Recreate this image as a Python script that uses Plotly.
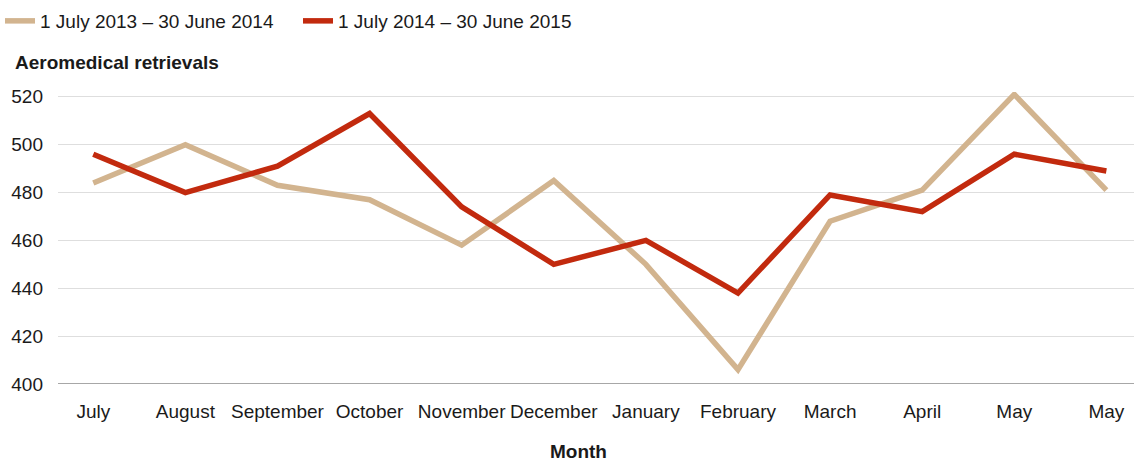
import plotly.graph_objects as go

# Monthly aeromedical retrievals, two financial years
months = ["July", "August", "September", "October", "November", "December",
          "January", "February", "March", "April", "May", "May"]
fy_2013_14 = [484, 500, 483, 477, 458, 485, 450, 406, 468, 481, 521, 481]
fy_2014_15 = [496, 480, 491, 513, 474, 450, 460, 438, 479, 472, 496, 489]
series_names = ["1 July 2013 – 30 June 2014", "1 July 2014 – 30 June 2015"]
y_ticks = [400, 420, 440, 460, 480, 500, 520]

TAN = "#D2B48F"
RED = "#C22A0E"
FONT = "Liberation Sans, Arial, Helvetica, sans-serif"
TEXT = "#1a1a1a"

x_idx = list(range(len(months)))

fig = go.Figure()
fig.add_trace(go.Scatter(x=x_idx, y=fy_2013_14, mode="lines", name=series_names[0],
                         line=dict(color=TAN, width=5.5)))
fig.add_trace(go.Scatter(x=x_idx, y=fy_2014_15, mode="lines", name=series_names[1],
                         line=dict(color=RED, width=5.5)))

fig.update_layout(
    width=1134, height=461,
    margin=dict(l=58, r=0, t=92, b=77),
    paper_bgcolor="white", plot_bgcolor="white",
    font=dict(family=FONT, size=19, color=TEXT),
    showlegend=True,
    legend=dict(orientation="h", x=0, xanchor="left", y=1 - 21 / 461, yanchor="middle",
                xref="container", yref="container",
                font=dict(size=19, color=TEXT), traceorder="normal",
                entrywidth=253, itemwidth=30),
    xaxis=dict(range=[-0.383, 11.3], tickmode="array", tickvals=x_idx, ticktext=months,
               showgrid=False, zeroline=False, showline=False, ticks="",
               ticklabelstandoff=14, tickfont=dict(size=19, color=TEXT)),
    yaxis=dict(range=[400, 522], tickmode="array", tickvals=y_ticks,
               showgrid=True, gridcolor="#dedede", gridwidth=1.2,
               zeroline=False, showline=False, ticks="",
               ticklabelstandoff=14, tickfont=dict(size=19, color=TEXT)),
    shapes=[dict(type="line", xref="paper", yref="y", x0=0, x1=1, y0=400, y1=400,
                 line=dict(color="#8a8a8a", width=1.5))],
)

# free-standing titles, positioned in page pixels converted to paper fractions
W, H = 1134, 461
L, R, T, B = 58, 0, 92, 77
pw, ph = W - L - R, H - T - B
fig.add_annotation(text="<b>Aeromedical retrievals</b>", xref="paper", yref="paper",
                   x=(13 - L) / pw, y=1 - (62 - T) / ph, xanchor="left", yanchor="middle",
                   showarrow=False, font=dict(size=19, color=TEXT))
fig.add_annotation(text="<b>Month</b>", xref="paper", yref="paper",
                   x=(578 - L) / pw, y=1 - (451 - T) / ph, xanchor="center", yanchor="middle",
                   showarrow=False, font=dict(size=19, color=TEXT))

fig.write_html("out.html")
